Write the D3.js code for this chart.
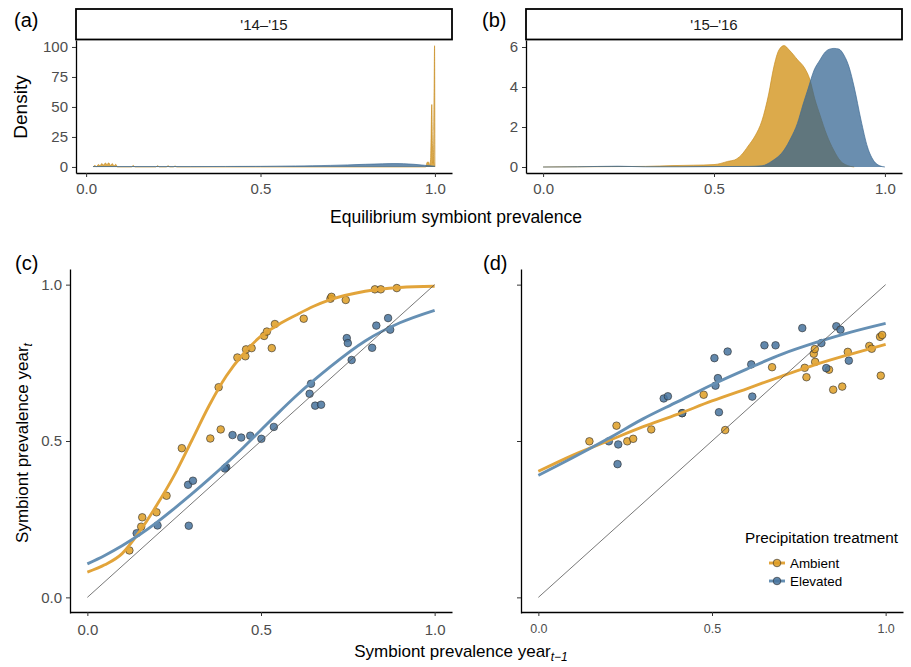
<!DOCTYPE html>
<html>
<head>
<meta charset="utf-8">
<script src="https://cdn.jsdelivr.net/npm/d3@7"></script>
<style>
  html, body { margin: 0; padding: 0; background: #ffffff; }
  svg { display: block; font-family: "Liberation Sans", Arial, sans-serif; }
</style>
</head>
<body>
<script>
// ---- Equilibrium prevalence densities, '14–'15 ----
const dens1415AmbientX = [0.02,0.025,0.03,0.035,0.04,0.045,0.05,0.055,0.06,0.065,0.07,0.075,0.08,0.085,0.09,0.13,0.135,0.14,0.2,0.205,0.21,0.23,0.235,0.24,0.25,0.255,0.26,0.3,0.5,0.9,0.974,0.978,0.982,0.985,0.988,0.991,0.993,0.995,0.997,0.999,1.0];
const dens1415AmbientY = [0,1.2,0.3,2,1,2.8,1.5,3.2,2,3.4,1.2,2.8,0.8,2.2,0,0,1.2,0,0,1,0,0,1,0,0,0.8,0,0,0,0,0,4,4,1,8,52,18,3,30,101,0];
const dens1415ElevatedX = [0.02,0.1,0.2,0.3,0.4,0.5,0.6,0.65,0.7,0.75,0.8,0.85,0.88,0.91,0.94,0.97,1.0];
const dens1415ElevatedY = [0.3,0.3,0.3,0.3,0.4,0.5,0.8,1.0,1.3,1.7,2.2,2.6,2.8,2.7,2.2,1.4,0.6];

// ---- Equilibrium prevalence densities, '15–'16 ----
const dens1516AmbientX = [0,0.1,0.2,0.3,0.38,0.44,0.5,0.52,0.54,0.56,0.58,0.6,0.62,0.64,0.66,0.675,0.69,0.705,0.72,0.745,0.765,0.78,0.795,0.81,0.83,0.85,0.87,0.89,0.91];
const dens1516AmbientY = [0,0.01,0.02,0.03,0.07,0.09,0.12,0.18,0.28,0.35,0.6,1.05,1.55,2.3,3.65,5.0,5.85,6.07,5.85,5.35,4.95,4.4,3.4,2.6,1.6,0.85,0.3,0.08,0];
const dens1516ElevatedX = [0,0.1,0.22,0.3,0.4,0.5,0.6,0.64,0.67,0.705,0.725,0.744,0.76,0.775,0.793,0.81,0.822,0.836,0.851,0.865,0.88,0.895,0.91,0.93,0.949,0.969,0.985,1.0];
const dens1516ElevatedY = [0,0.01,0.04,0.01,0.01,0.02,0.03,0.06,0.3,0.85,1.45,2.18,3.1,3.9,4.85,5.35,5.68,5.88,5.93,5.9,5.6,5.0,4.0,2.35,1.0,0.27,0.06,0];

// ---- Year-to-year prevalence, panel (c) ----
const cAmbientPrev = [0.272,0.354,0.384,0.378,0.432,0.455,0.457,0.473,0.509,0.517,0.531,0.540,0.623,0.700,0.703,0.744,0.828,0.845,0.891,0.228,0.199,0.158,0.155,0.121];
const cAmbientCurr = [0.477,0.508,0.537,0.672,0.767,0.771,0.793,0.797,0.836,0.850,0.797,0.874,0.891,0.955,0.961,0.951,0.985,0.985,0.989,0.325,0.272,0.256,0.226,0.150];
const cElevatedPrev = [0.418,0.443,0.469,0.501,0.537,0.640,0.644,0.656,0.673,0.747,0.750,0.761,0.820,0.832,0.866,0.872,0.400,0.396,0.290,0.304,0.202,0.292,0.142];
const cElevatedCurr = [0.519,0.511,0.517,0.507,0.545,0.651,0.683,0.613,0.616,0.829,0.813,0.759,0.798,0.869,0.893,0.856,0.416,0.412,0.360,0.373,0.230,0.229,0.205];
const cFitX = [0,0.05,0.1,0.15,0.2,0.25,0.3,0.35,0.4,0.45,0.5,0.55,0.6,0.65,0.7,0.8,0.9,1.0];
const cAmbientFit = [0.081,0.104,0.140,0.210,0.295,0.390,0.500,0.612,0.708,0.780,0.835,0.872,0.902,0.930,0.952,0.979,0.991,0.995];
const cElevatedFit = [0.107,0.134,0.165,0.200,0.240,0.284,0.330,0.378,0.428,0.480,0.535,0.590,0.643,0.692,0.738,0.820,0.878,0.918];

// ---- Year-to-year prevalence, panel (d) ----
const dAmbientPrev = [0.147,0.225,0.256,0.273,0.325,0.414,0.476,0.538,0.673,0.767,0.772,0.793,0.796,0.797,0.837,0.849,0.875,0.891,0.953,0.960,0.984,0.990,0.986];
const dAmbientCurr = [0.499,0.549,0.499,0.507,0.537,0.589,0.648,0.535,0.736,0.734,0.704,0.779,0.794,0.753,0.728,0.664,0.674,0.785,0.804,0.795,0.833,0.839,0.709];
const dElevatedPrev = [0.203,0.230,0.228,0.361,0.373,0.414,0.507,0.545,0.517,0.510,0.520,0.613,0.616,0.651,0.683,0.760,0.815,0.829,0.858,0.870,0.894];
const dElevatedCurr = [0.499,0.489,0.426,0.636,0.643,0.589,0.765,0.786,0.701,0.677,0.592,0.745,0.642,0.806,0.806,0.861,0.813,0.733,0.867,0.856,0.757];
const dFitX = [0,0.1,0.2,0.3,0.4,0.5,0.6,0.7,0.8,0.9,1.0];
const dAmbientFit = [0.403,0.455,0.500,0.545,0.585,0.628,0.667,0.707,0.745,0.778,0.809];
const dElevatedFit = [0.390,0.447,0.507,0.570,0.625,0.680,0.730,0.777,0.815,0.848,0.876];

const treatments = ["Ambient", "Elevated"];
const xTicks = [0, 0.5, 1];
const densTicks1415 = [0, 25, 50, 75, 100];
const densTicks1516 = [0, 2, 4, 6];
const prevTicks = [0, 0.5, 1];

// ---- styling ----
const FONT = "'Liberation Sans', Arial, sans-serif";
const densFill = { Ambient: "rgba(211,149,30,0.80)", Elevated: "rgba(48,99,144,0.72)" };
const densLine = { Ambient: "#c98e22", Elevated: "#3d6a93" };
const ptFill = { Ambient: "rgba(222,157,35,0.85)", Elevated: "rgba(70,115,158,0.85)" };
const fitColor = { Ambient: "#e2a43a", Elevated: "#6690b4" };

const zip = (a, b) => a.map((v, i) => [v, b[i]]);

const svg = d3.select("body").append("svg").attr("width", 911).attr("height", 667);
svg.append("rect").attr("width", 911).attr("height", 667).attr("fill", "#fff");

function styleAxis(g, fontSize) {
  g.select(".domain").attr("stroke", "#000").attr("stroke-width", 1.3);
  g.selectAll(".tick line").attr("stroke", "#333").attr("stroke-width", 1);
  g.selectAll(".tick text").attr("fill", "#4d4d4d").style("font-size", fontSize + "px").style("font-family", FONT);
}

function strip(x0, x1, label) {
  svg.append("rect").attr("x", x0).attr("y", 9).attr("width", x1 - x0).attr("height", 30.5)
    .attr("fill", "#fff").attr("stroke", "#000").attr("stroke-width", 1.8);
  svg.append("text").attr("x", (x0 + x1) / 2).attr("y", 30).attr("text-anchor", "middle")
    .style("font-size", "15px").style("font-family", FONT).attr("fill", "#1a1a1a").text(label);
}

function panelTag(x, y, t) {
  svg.append("text").attr("x", x).attr("y", y).style("font-size", "20px").style("font-family", FONT)
    .attr("fill", "#000").text(t);
}

function densityPanel(xs, ys, series, yTicks) {
  const area = d3.area().x(d => xs(d[0])).y0(ys(0)).y1(d => ys(d[1])).curve(d3.curveMonotoneX);
  const line = d3.line().x(d => xs(d[0])).y(d => ys(d[1])).curve(d3.curveMonotoneX);
  series.forEach(s => {
    svg.append("path").datum(s.pts).attr("d", area).attr("fill", densFill[s.key]);
    svg.append("path").datum(s.pts).attr("d", line).attr("fill", "none")
      .attr("stroke", densLine[s.key]).attr("stroke-width", 0.7);
  });
  const gx = svg.append("g").attr("transform", `translate(0,${ys.range()[0]})`)
    .call(d3.axisBottom(xs).tickValues(xTicks).tickFormat(d3.format(".1f")).tickSize(4).tickSizeOuter(0).tickPadding(6));
  styleAxis(gx, 15);
  const gy = svg.append("g").attr("transform", `translate(${xs.range()[0]},0)`)
    .call(d3.axisLeft(ys).tickValues(yTicks).tickFormat(d3.format("d")).tickSize(4).tickSizeOuter(0).tickPadding(4));
  styleAxis(gy, 15);
}

// ---- (a) '14–'15 ----
const xA = d3.scaleLinear().domain([-0.029, 1.049]).range([76, 452]);
const yA = d3.scaleLinear().domain([-5.05, 105.8]).range([173, 40]);
densityPanel(xA, yA, [
  { key: "Ambient", pts: zip(dens1415AmbientX, dens1415AmbientY) },
  { key: "Elevated", pts: zip(dens1415ElevatedX, dens1415ElevatedY) }
], densTicks1415);
strip(76, 452, "'14\u2013'15");
panelTag(14, 27, "(a)");

// ---- (b) '15–'16 ----
const xB = d3.scaleLinear().domain([-0.05, 1.05]).range([526, 902]);
const yB = d3.scaleLinear().domain([-0.3, 6.35]).range([173, 40]);
densityPanel(xB, yB, [
  { key: "Ambient", pts: zip(dens1516AmbientX, dens1516AmbientY) },
  { key: "Elevated", pts: zip(dens1516ElevatedX, dens1516ElevatedY) }
], densTicks1516);
strip(526, 902, "'15\u2013'16");
panelTag(482, 27, "(b)");

svg.append("text").attr("transform", "translate(27,107) rotate(-90)").attr("text-anchor", "middle")
  .style("font-size", "19px").style("font-family", FONT).text("Density");
svg.append("text").attr("x", 456).attr("y", 223).attr("text-anchor", "middle")
  .style("font-size", "17.5px").style("font-family", FONT).text("Equilibrium symbiont prevalence");

// ---- (c), (d) year-to-year prevalence ----
function scatterPanel(xs, ys, pts, fits, fitX, showYLabels, tickFont) {
  const g = svg.append("g");
  // points
  treatments.forEach(k => {
    g.selectAll(null).data(pts[k]).join("circle")
      .attr("cx", d => xs(d[0])).attr("cy", d => ys(d[1])).attr("r", 3.8)
      .attr("fill", ptFill[k]).attr("stroke", "rgba(40,40,40,0.85)").attr("stroke-width", 0.7);
  });
  // fitted curves
  const line = d3.line().x(d => xs(d[0])).y(d => ys(d[1])).curve(d3.curveMonotoneX);
  treatments.forEach(k => {
    g.append("path").datum(zip(fitX, fits[k])).attr("d", line).attr("fill", "none")
      .attr("stroke", fitColor[k]).attr("stroke-width", 2.9).attr("stroke-linecap", "butt");
  });
  // 1:1 reference line
  g.append("line").attr("x1", xs(0)).attr("y1", ys(0)).attr("x2", xs(1)).attr("y2", ys(1))
    .attr("stroke", "#555").attr("stroke-width", 0.8);
  const gx = svg.append("g").attr("transform", `translate(0,612)`)
    .call(d3.axisBottom(xs).tickValues(prevTicks).tickFormat(d3.format(".1f")).tickSize(4).tickSizeOuter(0).tickPadding(8));
  styleAxis(gx, tickFont);
  const gy = svg.append("g").attr("transform", `translate(${xs.range()[0]},0)`)
    .call(d3.axisLeft(ys).tickValues(prevTicks).tickFormat(showYLabels ? d3.format(".1f") : () => "")
      .tickSize(4).tickSizeOuter(0).tickPadding(4));
  styleAxis(gy, tickFont);
}

const yPrev = d3.scaleLinear().domain([-0.05, 1.05]).range([613, 269]);
const xC = d3.scaleLinear().domain([-0.05, 1.05]).range([70, 452]);
scatterPanel(xC, yPrev,
  { Ambient: zip(cAmbientPrev, cAmbientCurr), Elevated: zip(cElevatedPrev, cElevatedCurr) },
  { Ambient: cAmbientFit, Elevated: cElevatedFit }, cFitX, true, 15);
panelTag(15, 270, "(c)");

const xD = d3.scaleLinear().domain([-0.05, 1.05]).range([521, 903]);
scatterPanel(xD, yPrev,
  { Ambient: zip(dAmbientPrev, dAmbientCurr), Elevated: zip(dElevatedPrev, dElevatedCurr) },
  { Ambient: dAmbientFit, Elevated: dElevatedFit }, dFitX, false, 12.5);
panelTag(483, 270, "(d)");

// axis titles
const yt = svg.append("text").attr("transform", "translate(28,443) rotate(-90)").attr("text-anchor", "middle")
  .style("font-size", "17px").style("font-family", FONT);
yt.append("tspan").text("Symbiont prevalence year");
yt.append("tspan").attr("dy", 4).style("font-size", "12px").style("font-style", "italic").text("t");

const xt = svg.append("text").attr("x", 461).attr("y", 657).attr("text-anchor", "middle")
  .style("font-size", "17px").style("font-family", FONT);
xt.append("tspan").text("Symbiont prevalence year");
xt.append("tspan").attr("dy", 4).style("font-size", "12px").style("font-style", "italic").text("t\u22121");

// legend
const lg = svg.append("g");
lg.append("text").attr("x", 745).attr("y", 543).style("font-size", "15.3px").style("font-family", FONT)
  .text("Precipitation treatment");
treatments.forEach((k, i) => {
  const cy = 563 + i * 18;
  lg.append("line").attr("x1", 769).attr("x2", 785).attr("y1", cy).attr("y2", cy)
    .attr("stroke", fitColor[k]).attr("stroke-width", 2.9);
  lg.append("circle").attr("cx", 777).attr("cy", cy).attr("r", 3.8)
    .attr("fill", ptFill[k]).attr("stroke", "rgba(40,40,40,0.85)").attr("stroke-width", 0.7);
  lg.append("text").attr("x", 790).attr("y", cy + 5).style("font-size", "13.4px").style("font-family", FONT).text(k);
});
</script>
</body>
</html>
